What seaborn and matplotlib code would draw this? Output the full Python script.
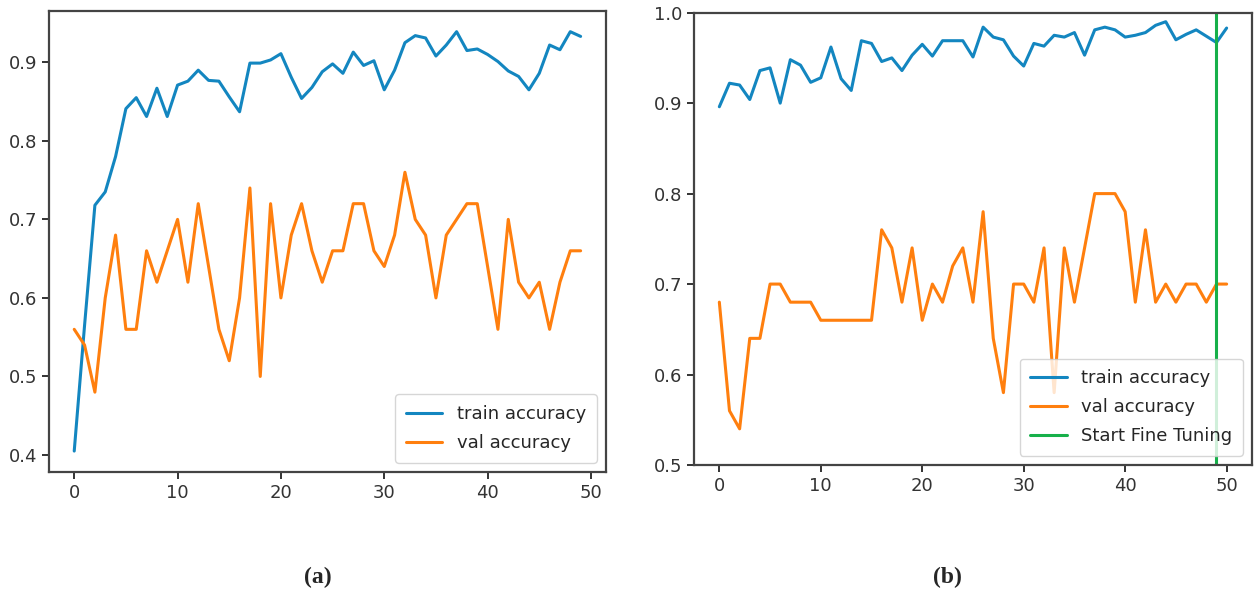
import numpy as np
import pandas as pd
import matplotlib
matplotlib.use("Agg")
import matplotlib.pyplot as plt
import seaborn as sns

# ---- (a) training run ----
train_acc_a = [0.405, 0.565, 0.718, 0.735, 0.780, 0.841, 0.855, 0.831, 0.867, 0.831,
               0.871, 0.876, 0.890, 0.877, 0.876, 0.856, 0.837, 0.899, 0.899, 0.903,
               0.911, 0.881, 0.854, 0.868, 0.888, 0.898, 0.886, 0.913, 0.896, 0.902,
               0.865, 0.890, 0.925, 0.934, 0.931, 0.908, 0.922, 0.939, 0.915, 0.917,
               0.910, 0.901, 0.889, 0.882, 0.865, 0.886, 0.922, 0.916, 0.939, 0.933]
val_acc_a = [0.56, 0.54, 0.48, 0.60, 0.68, 0.56, 0.56, 0.66, 0.62, 0.66,
             0.70, 0.62, 0.72, 0.64, 0.56, 0.52, 0.60, 0.74, 0.50, 0.72,
             0.60, 0.68, 0.72, 0.66, 0.62, 0.66, 0.66, 0.72, 0.72, 0.66,
             0.64, 0.68, 0.76, 0.70, 0.68, 0.60, 0.68, 0.70, 0.72, 0.72,
             0.64, 0.56, 0.70, 0.62, 0.60, 0.62, 0.56, 0.62, 0.66, 0.66]

# ---- (b) fine-tuning run ----
train_acc_b = [0.896, 0.922, 0.920, 0.904, 0.936, 0.939, 0.900, 0.948, 0.942, 0.923,
               0.928, 0.962, 0.927, 0.914, 0.969, 0.966, 0.946, 0.950, 0.936, 0.953,
               0.965, 0.952, 0.969, 0.969, 0.969, 0.951, 0.984, 0.973, 0.970, 0.952,
               0.941, 0.966, 0.963, 0.975, 0.973, 0.978, 0.953, 0.981, 0.984, 0.981,
               0.973, 0.975, 0.978, 0.986, 0.990, 0.970, 0.976, 0.981, 0.974, 0.967,
               0.983]
val_acc_b = [0.68, 0.56, 0.54, 0.64, 0.64, 0.70, 0.70, 0.68, 0.68, 0.68,
             0.66, 0.66, 0.66, 0.66, 0.66, 0.66, 0.76, 0.74, 0.68, 0.74,
             0.66, 0.70, 0.68, 0.72, 0.74, 0.68, 0.78, 0.64, 0.58, 0.70,
             0.70, 0.68, 0.74, 0.58, 0.74, 0.68, 0.74, 0.80, 0.80, 0.80,
             0.78, 0.68, 0.76, 0.68, 0.70, 0.68, 0.70, 0.70, 0.68, 0.70,
             0.70]
fine_tune_epoch = 49

panel_labels = ["(a)", "(b)"]
series_labels = ["train accuracy", "val accuracy"]
vline_label = "Start Fine Tuning"

BLUE = "#1386c0"
ORANGE = "#ff7f0e"
GREEN = "#17b04a"

sns.set_style("ticks", {"axes.edgecolor": "#444444", "xtick.color": "#444444",
                        "ytick.color": "#444444"})
plt.rcParams["font.family"] = ["DejaVu Sans"]

fig = plt.figure(figsize=(12.54, 5.89), dpi=100)
ax_a = fig.add_axes([0.039, 0.1986, 0.4442, 0.7832])
ax_b = fig.add_axes([0.5534, 0.2105, 0.4450, 0.7680])


def draw_panel(ax, train, val):
    df = pd.DataFrame({"epoch": np.arange(len(train)),
                       series_labels[0]: train,
                       series_labels[1]: val})
    sns.lineplot(data=df, x="epoch", y=series_labels[0], ax=ax, color=BLUE,
                 linewidth=2.2, label=series_labels[0])
    sns.lineplot(data=df, x="epoch", y=series_labels[1], ax=ax, color=ORANGE,
                 linewidth=2.2, label=series_labels[1])
    ax.set_xlabel("")
    ax.set_ylabel("")
    for sp in ax.spines.values():
        sp.set_linewidth(1.6)
    ax.tick_params(labelsize=13, width=1.4, length=5, colors="#333333")
    ax.set_xticks([0, 10, 20, 30, 40, 50])


draw_panel(ax_a, train_acc_a, val_acc_a)
ax_a.set_yticks([0.4, 0.5, 0.6, 0.7, 0.8, 0.9])
ax_a.legend(loc="lower right", fontsize=13, handlelength=2.0,
            borderpad=0.6, labelspacing=0.6)

draw_panel(ax_b, train_acc_b, val_acc_b)
ax_b.axvline(fine_tune_epoch, color=GREEN, linewidth=2.2, label=vline_label)
ax_b.set_ylim(0.5, 1.0)
ax_b.set_yticks([0.5, 0.6, 0.7, 0.8, 0.9, 1.0])
ax_b.legend(loc="lower right", fontsize=13, handlelength=2.0,
            borderpad=0.6, labelspacing=0.6)

fig.text(318 / 1254, 1 - 577 / 589, panel_labels[0], ha="center", va="center",
         fontsize=17, fontweight="bold", family="Liberation Serif")
fig.text(947 / 1254, 1 - 577 / 589, panel_labels[1], ha="center", va="center",
         fontsize=17, fontweight="bold", family="Liberation Serif")

fig.savefig("out.png", dpi=100)
